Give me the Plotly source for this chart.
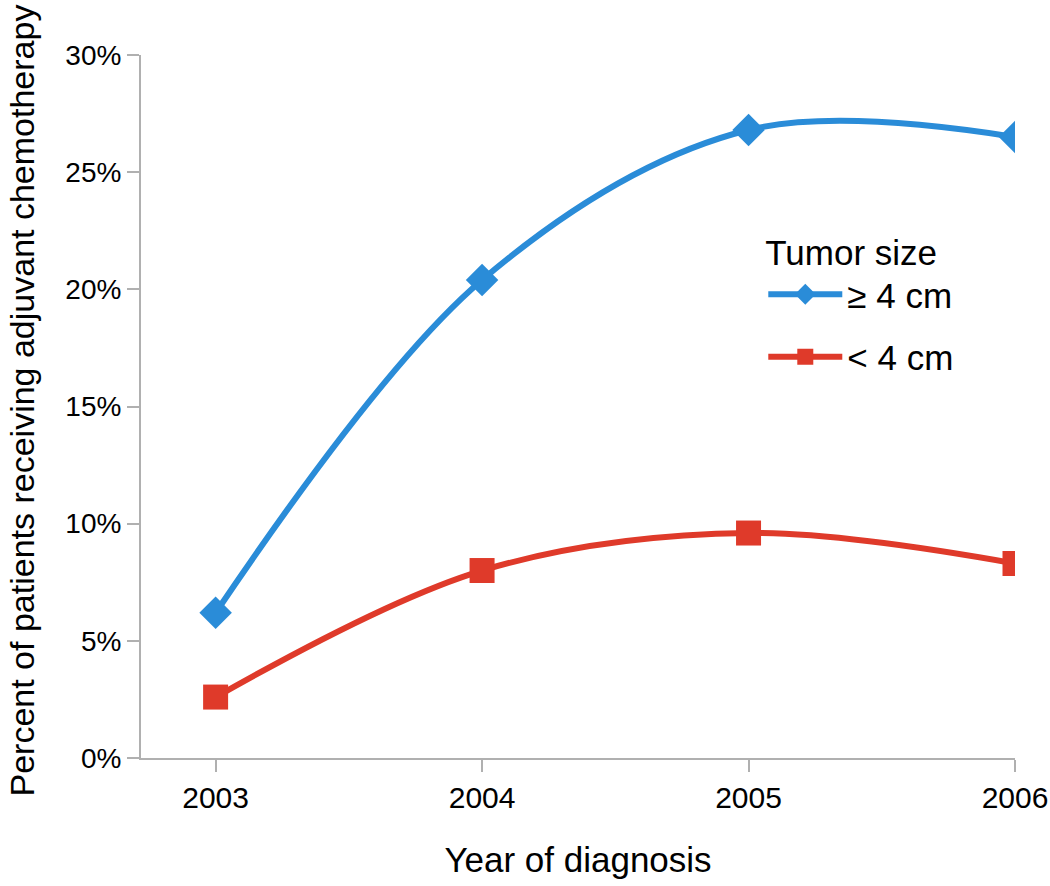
import plotly.graph_objects as go

years = [2003, 2004, 2005, 2006]
large = [0.062, 0.204, 0.268, 0.265]
small = [0.026, 0.080, 0.096, 0.083]
y_ticks = [0, 0.05, 0.10, 0.15, 0.20, 0.25, 0.30]
y_labels = ["0%", "5%", "10%", "15%", "20%", "25%", "30%"]

blue = "#2a8cd8"
red = "#df3a2a"
font = "Arial, Liberation Sans, sans-serif"

fig = go.Figure()
fig.add_trace(go.Scatter(
    x=years, y=large, name="≥ 4 cm", mode="lines+markers", legendgroup="a",
    line=dict(color=blue, width=6, shape="spline", smoothing=1),
    marker=dict(symbol="diamond", size=25, color=blue),
))
fig.add_trace(go.Scatter(
    x=years, y=small, name="< 4 cm", mode="lines+markers", legendgroup="b",
    line=dict(color=red, width=6, shape="spline", smoothing=1),
    marker=dict(symbol="square", size=25, color=red),
))

fig.update_layout(
    width=1050, height=886,
    paper_bgcolor="white", plot_bgcolor="white",
    margin=dict(l=141, r=35, t=55, b=128),
    font=dict(family=font, size=28, color="black"),
    legend=dict(
        title=dict(text="Tumor size", font=dict(size=35)),
        font=dict(size=35), x=0.712, y=0.766, xanchor="left", yanchor="top",
        bgcolor="rgba(0,0,0,0)", tracegroupgap=14, itemwidth=74,
    ),
    xaxis=dict(
        range=[2002.72, 2006], tickvals=years, ticktext=[str(y) for y in years],
        showline=True, linecolor="#b0b0b0", linewidth=2,
        ticks="outside", tickcolor="#b0b0b0", ticklen=12, tickwidth=2,
        showgrid=False, zeroline=False, automargin=False,
        title=dict(text="Year of diagnosis", font=dict(size=35), standoff=34),
        tickfont=dict(size=30),
    ),
    yaxis=dict(
        range=[0, 0.30], tickvals=y_ticks, ticktext=y_labels,
        showline=True, linecolor="#b0b0b0", linewidth=2,
        ticks="outside", tickcolor="#b0b0b0", ticklen=12, tickwidth=2,
        showgrid=False, zeroline=False, automargin=False,
        tickfont=dict(size=28),
    ),
    annotations=[dict(
        text="Percent of patients receiving adjuvant chemotherapy",
        xref="paper", yref="paper", x=0, y=0.5, xanchor="center", yanchor="middle",
        xshift=-120, yshift=6, textangle=-90, showarrow=False,
        font=dict(size=34, family=font, color="black"),
    )],
)

fig.write_html(
    "out.html",
    config={"displayModeBar": False},
    post_script="document.body.style.margin='0';document.body.style.overflow='hidden';",
)
